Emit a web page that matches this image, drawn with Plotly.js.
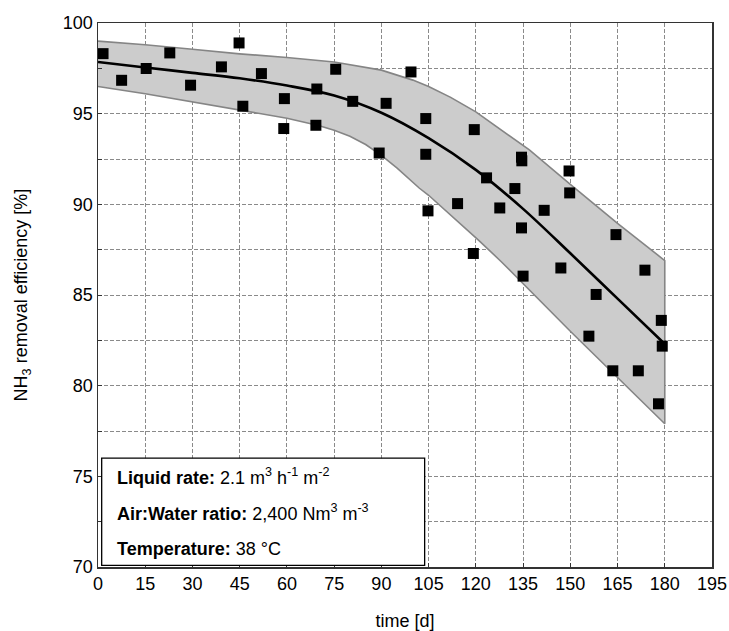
<!DOCTYPE html>
<html>
<head>
<meta charset="utf-8">
<script src="https://cdn.plot.ly/plotly-3.0.1.min.js"></script>
<style>
html,body{margin:0;padding:0;background:#fff;}
#chart{width:729px;height:631px;}
</style>
</head>
<body>
<div id="chart"></div>
<script>
// Measured data points
const timeDays = [1.6, 7.5, 15.3, 22.8, 29.4, 39.2, 44.8, 46.0, 51.9, 59.2, 59.0, 69.5, 69.2, 75.5, 80.9, 89.3, 91.5, 99.4, 104.1, 104.1, 104.8, 114.2, 119.5, 119.2, 123.4, 127.6, 132.4, 134.5, 134.6, 134.5, 135.0, 141.7, 147.0, 149.6, 149.8, 155.9, 158.2, 163.5, 164.5, 171.6, 173.7, 178.0, 178.9, 179.2];
const efficiency = [98.31, 96.84, 97.49, 98.35, 96.57, 97.58, 98.9, 95.41, 97.21, 95.83, 94.18, 96.36, 94.36, 97.45, 95.68, 92.83, 95.57, 97.3, 94.73, 92.76, 89.64, 90.04, 94.12, 87.29, 91.46, 89.8, 90.87, 92.6, 92.4, 88.7, 86.04, 89.67, 86.49, 91.84, 90.63, 82.73, 85.03, 80.82, 88.33, 80.82, 86.37, 79.0, 83.6, 82.18];

// Fitted curve
const fitX = [0, 15, 30, 45, 60, 75, 90, 105, 120, 135, 150, 165, 180];
const fitY = [97.85, 97.55, 97.25, 96.95, 96.55, 96.0, 95.05, 93.65, 91.9, 89.75, 87.3, 84.8, 82.3];

// Confidence band
const upperX = [0, 15, 30, 45, 60, 75, 90, 100, 105, 112, 120, 128, 137, 150, 165, 180];
const upperY = [99.0, 98.8, 98.55, 98.3, 98.1, 97.85, 97.4, 96.85, 96.5, 95.9, 95.1, 94.1, 93.0, 91.1, 88.95, 86.9];
const lowerX = [0, 15, 30, 45, 60, 70, 75, 80, 85, 90, 95, 102, 105, 121, 128, 150, 165, 180];
const lowerY = [96.5, 96.1, 95.65, 95.2, 94.75, 94.35, 94.08, 93.75, 93.3, 92.7, 92.0, 90.9, 90.5, 88.0, 86.85, 83.0, 80.45, 77.9];

const xTicks = [0, 15, 30, 45, 60, 75, 90, 105, 120, 135, 150, 165, 180, 195];
const yTicks = [70, 75, 80, 85, 90, 95, 100];

const boxLines = [
  "<b>Liquid rate:</b> 2.1 m<sup>3</sup> h<sup>-1</sup> m<sup>-2</sup>",
  "<b>Air:Water ratio:</b> 2,400 Nm<sup>3</sup> m<sup>-3</sup>",
  "<b>Temperature:</b> 38 °C"
];

const bandX = upperX.concat(lowerX.slice().reverse());
const bandY = upperY.concat(lowerY.slice().reverse());

const FONT = "Liberation Sans, Arial, sans-serif";

const traces = [
  {x: bandX, y: bandY, type: 'scatter', mode: 'lines', fill: 'toself',
   fillcolor: '#cccccc', line: {color: '#858585', width: 1.6}, hoverinfo: 'skip', showlegend: false},
  {x: fitX, y: fitY, type: 'scatter', mode: 'lines', line: {color: '#000', width: 2.6, shape: 'spline'}, showlegend: false},
  {x: timeDays, y: efficiency, type: 'scatter', mode: 'markers',
   marker: {symbol: 'square', size: 11, color: '#000'}, showlegend: false}
];

const gridStyle = {gridcolor: '#8a8a8a', griddash: '4px,2px', gridwidth: 1};

const layout = {
  width: 729, height: 631,
  margin: {l: 97.5, r: 17, t: 22.7, b: 64.3},
  paper_bgcolor: '#fff', plot_bgcolor: '#fff',
  font: {family: FONT, size: 18, color: '#000'},
  xaxis: Object.assign({
    range: [0, 195], tickvals: xTicks, ticktext: xTicks.map(String),
    showgrid: true, zeroline: false, showline: true, mirror: true,
    linecolor: '#333', linewidth: 1.5, ticks: 'inside', ticklen: 4, tickcolor: '#333',
    title: {text: 'time [d]', font: {family: FONT, size: 18}, standoff: 24},
    tickfont: {family: FONT, size: 18}
  }, gridStyle),
  yaxis: Object.assign({
    range: [70, 100], tickvals: yTicks, ticktext: yTicks.map(String),
    showgrid: true, zeroline: false, showline: true, mirror: true,
    linecolor: '#333', linewidth: 1.5, ticks: 'inside', ticklen: 4, tickcolor: '#333',
    minor: {dtick: 2.5, showgrid: true, gridcolor: '#8a8a8a', griddash: '4px,2px', ticks: 'inside', ticklen: 4, tickcolor: '#333'},
    title: {text: 'NH<sub>3</sub> removal efficiency [%]', font: {family: FONT, size: 18}, standoff: 30},
    tickfont: {family: FONT, size: 18}
  }, gridStyle),
  shapes: [
    {type: 'rect', xref: 'paper', yref: 'paper', x0: 0.006, x1: 0.532, y0: 0.003, y1: 0.2,
     fillcolor: '#fff', line: {color: '#000', width: 1.3}, layer: 'above'}
  ],
  annotations: boxLines.map((t, i) => ({
    text: t, xref: 'paper', yref: 'paper', x: 0.028, y: [0.166, 0.101, 0.034][i],
    xanchor: 'left', yanchor: 'middle', showarrow: false,
    font: {family: FONT, size: 18, color: '#000'}
  }))
};

Plotly.newPlot('chart', traces, layout, {staticPlot: true, displayModeBar: false});
</script>
</body>
</html>
